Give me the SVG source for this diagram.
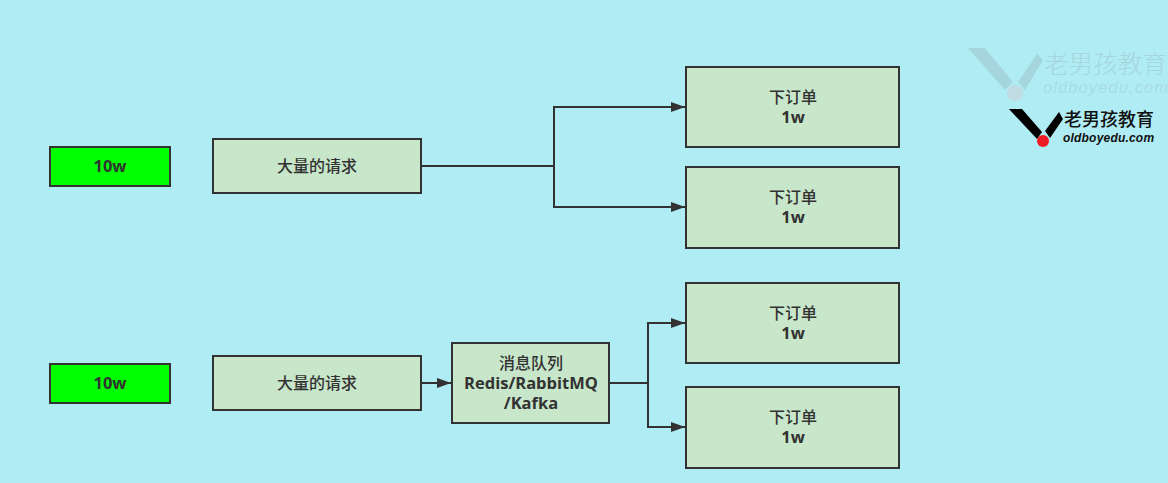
<svg xmlns="http://www.w3.org/2000/svg" width="1168" height="483" viewBox="0 0 1168 483">
<defs>
<marker id="arrow" markerUnits="userSpaceOnUse" markerWidth="15" markerHeight="12" refX="14" refY="6" orient="auto"><path d="M0 1 L14 6 L0 11 Z" fill="#323232"/></marker>
</defs>
<style>
.bg{fill:#b0ecf4}
.box{fill:#c8e6c9;stroke:#323232;stroke-width:2}
.green{fill:#00ff00;stroke:#323232;stroke-width:2}
.t{font-family:"Open Sans","Noto Sans CJK SC",sans-serif;font-size:16.5px;font-weight:700;fill:#323232;text-anchor:middle}
.c{font-family:"Noto Sans CJK SC",sans-serif;font-size:16px;font-weight:500;fill:#323232;text-anchor:middle}
.conn{fill:none;stroke:#323232;stroke-width:2}
.wm1{font-family:"Noto Sans CJK SC",sans-serif;font-size:24.6px;font-weight:300;fill:#a5d6de}
.wm2{font-family:"Liberation Sans",sans-serif;font-size:16.5px;font-style:italic;fill:#a8dce4;letter-spacing:1.1px}
.lg1{font-family:"Noto Sans CJK SC",sans-serif;font-size:18px;font-weight:500;fill:#111}
.lg2{font-family:"Liberation Sans",sans-serif;font-size:12px;font-style:italic;font-weight:700;fill:#111;letter-spacing:.2px}
</style>
<rect class="bg" width="1168" height="483"/>
<g id="connectors">
<path class="conn" d="M421 166 H554 V107 H685" marker-end="url(#arrow)"/>
<path class="conn" d="M554 166 V207 H685" marker-end="url(#arrow)"/>
<path class="conn" d="M421 383 H451" marker-end="url(#arrow)"/>
<path class="conn" d="M609 383 H648 V323 H685" marker-end="url(#arrow)"/>
<path class="conn" d="M648 383 V427 H685" marker-end="url(#arrow)"/>
</g>
<g id="n-10w-top"><rect class="green" x="50" y="147" width="120" height="39"/><text class="t" x="110" y="172">10w</text></g>
<g id="n-req-top"><rect class="box" x="213" y="139" width="208" height="54"/><text class="c" x="317" y="172">大量的请求</text></g>
<g id="n-order-1"><rect class="box" x="686" y="67" width="213" height="80"/><text class="c" x="793" y="103">下订单</text><text class="t" x="793" y="123">1w</text></g>
<g id="n-order-2"><rect class="box" x="686" y="167" width="213" height="81"/><text class="c" x="793" y="203">下订单</text><text class="t" x="793" y="223">1w</text></g>
<g id="n-10w-bottom"><rect class="green" x="50" y="364" width="120" height="39"/><text class="t" x="110" y="389">10w</text></g>
<g id="n-req-bottom"><rect class="box" x="213" y="356" width="208" height="54"/><text class="c" x="317" y="389">大量的请求</text></g>
<g id="n-mq"><rect class="box" x="452" y="343" width="157" height="80"/><text class="c" x="531" y="369">消息队列</text><text class="t" x="531" y="389">Redis/RabbitMQ</text><text class="t" x="531" y="409">/Kafka</text></g>
<g id="n-order-3"><rect class="box" x="686" y="283" width="213" height="80"/><text class="c" x="793" y="319">下订单</text><text class="t" x="793" y="339">1w</text></g>
<g id="n-order-4"><rect class="box" x="686" y="387" width="213" height="81"/><text class="c" x="793" y="423">下订单</text><text class="t" x="793" y="443">1w</text></g>
<g id="watermark">
<path d="M968 48 H985 L1013 82 L1005 90 Z M1018 82 L1037 54 L1043 60 L1025 90 Z" fill="#a5d6de"/>
<circle cx="1015" cy="93" r="8" fill="#c0dbe2"/>
<text class="wm1" x="1044" y="73">老男孩教育</text>
<text class="wm2" x="1043" y="93">oldboyedu.com</text>
<path d="M1009 109 H1022 L1042 132 L1037 139 Z M1045 131 L1059 112 L1063 119 L1050 138 Z" fill="#000"/>
<circle cx="1043" cy="141" r="6" fill="#ed1c24"/>
<text class="lg1" x="1064" y="126">老男孩教育</text>
<text class="lg2" x="1063" y="142">oldboyedu.com</text>
</g>
</svg>
